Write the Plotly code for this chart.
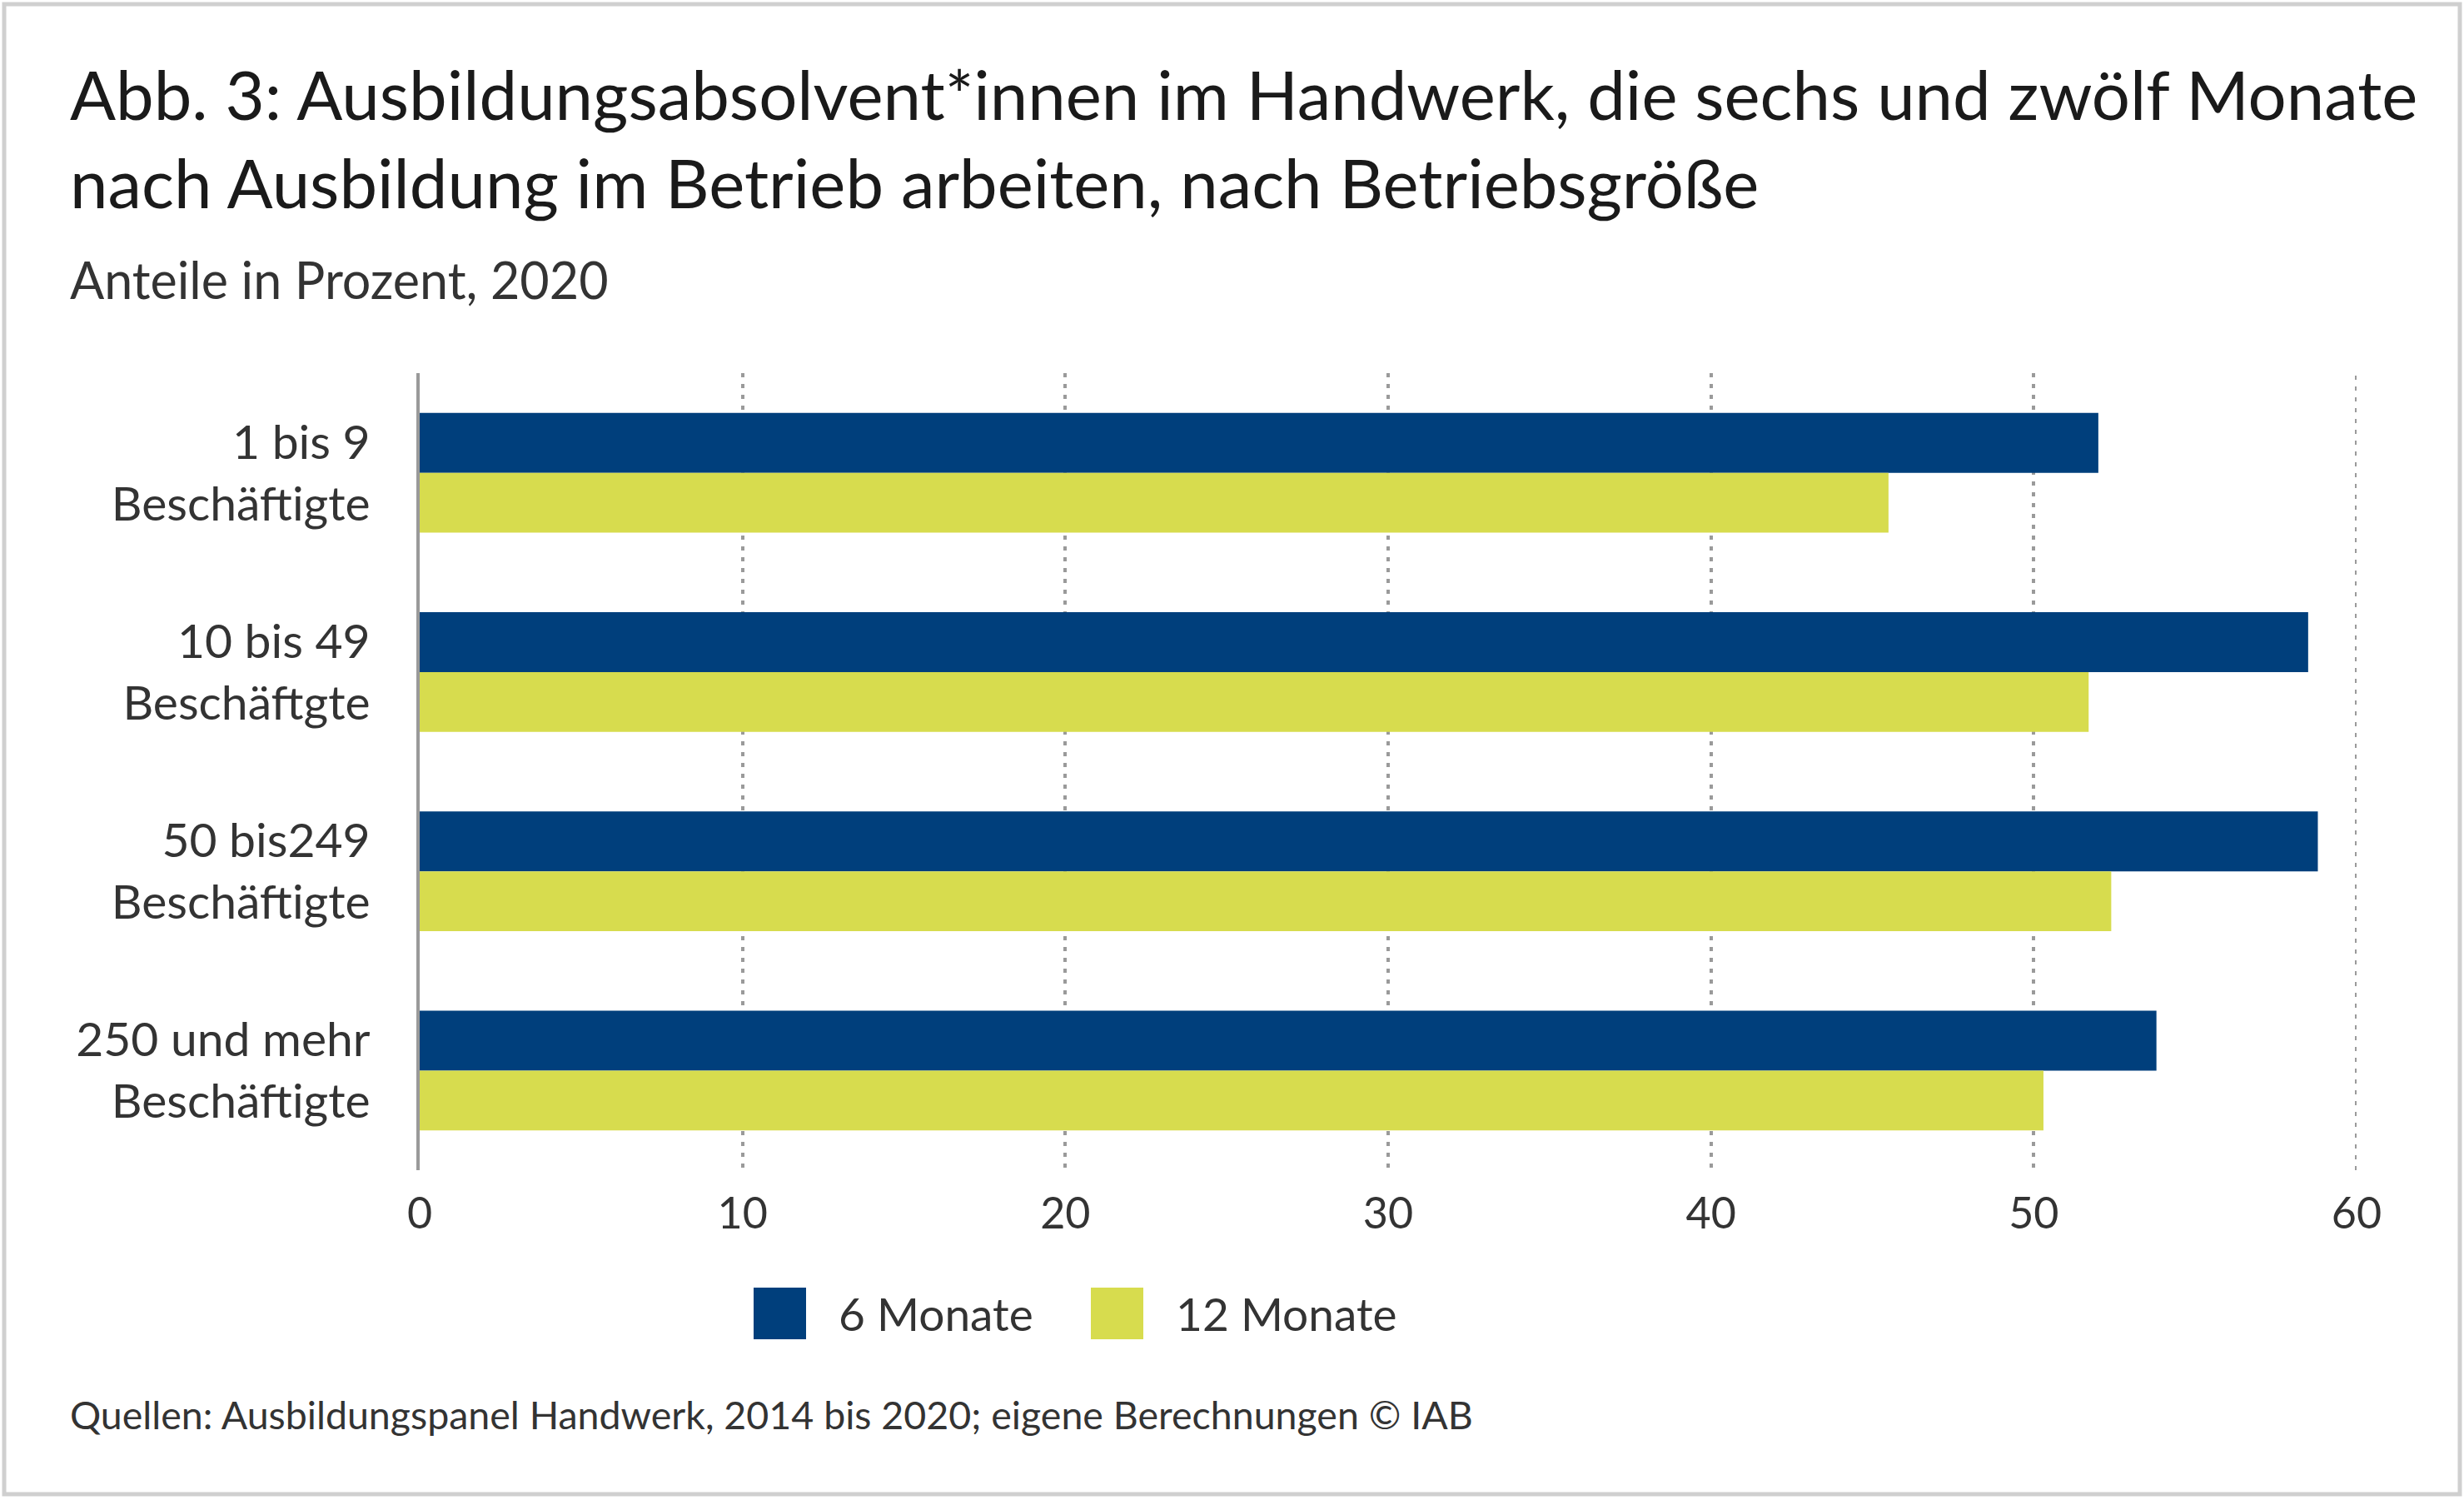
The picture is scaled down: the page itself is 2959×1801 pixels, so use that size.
import plotly.graph_objects as go

# Daten (Anteile in Prozent, 2020)
categories = ["1 bis 9<br>Beschäftigte", "10 bis 49<br>Beschäftgte",
              "50 bis249<br>Beschäftigte", "250 und mehr<br>Beschäftigte"]
series_names = ["6 Monate", "12 Monate"]
values_6m = [52.0, 58.5, 58.8, 53.8]
values_12m = [45.5, 51.7, 52.4, 50.3]
x_ticks = [0, 10, 20, 30, 40, 50, 60]

title = ("Abb. 3: Ausbildungsabsolvent*innen im Handwerk, die sechs und zwölf Monate"
         "<br>nach Ausbildung im Betrieb arbeiten, nach Betriebsgröße")
subtitle = "Anteile in Prozent, 2020"
source = "Quellen: Ausbildungspanel Handwerk, 2014 bis 2020; eigene Berechnungen © IAB"

NAVY = "#003f7c"
LIME = "#d7dc4e"
TXT = "#333333"
GRID = "#9a9a9a"
FONT = "Lato, Noto Sans, sans-serif"

W, H = 2959, 1801
L, R, T, B = 504, 129, 448, 396

def px(x):
    return (x - L) / (W - L - R)

def py(y):
    return (H - B - y) / (H - T - B)

fig = go.Figure()
for name, vals, col in [(series_names[0], values_6m, NAVY),
                        (series_names[1], values_12m, LIME)]:
    fig.add_trace(go.Bar(y=categories, x=vals, name=name, orientation="h",
                         marker=dict(color=col, line=dict(width=0))))

fig.update_layout(
    width=W, height=H,
    margin=dict(l=L, r=R, t=T, b=B),
    paper_bgcolor="white", plot_bgcolor="white",
    barmode="group", bargap=0.4, bargroupgap=0,
    showlegend=False,
    font=dict(family=FONT, color=TXT),
)
fig.update_xaxes(range=[0, 60], tickvals=x_ticks, showgrid=True,
                 gridcolor=GRID, gridwidth=4, griddash="5px,8px",
                 zeroline=False, showline=False, ticks="",
                 ticklabelstandoff=17,
                 tickfont=dict(size=52, color=TXT, family=FONT))
fig.update_yaxes(autorange="reversed", showgrid=False, zeroline=False,
                 showline=True, linecolor=GRID, linewidth=4, ticks="",
                 ticklabelstandoff=44,
                 tickfont=dict(size=57, color=TXT, family=FONT))

ann = [
    dict(text=title, x=px(82), y=py(62), xanchor="left", yanchor="top", align="left",
         font=dict(size=81.5, color="#1a1a1a", family=FONT)),
    dict(text=subtitle, x=px(82), y=py(297), xanchor="left", yanchor="top",
         font=dict(size=61, color=TXT, family=FONT)),
    dict(text=source, x=px(82), y=py(1698), xanchor="left", yanchor="middle",
         font=dict(size=46.5, color=TXT, family=FONT)),
]
shapes = [dict(type="rect", xref="paper", yref="paper",
               x0=px(5), x1=px(2954), y0=py(5), y1=py(1794),
               line=dict(color="#cfcfcf", width=5), layer="below"),
          # letzte Gitterlinie am rechten Rand (bei 60)
          dict(type="line", xref="x", yref="paper", x0=x_ticks[-1], x1=x_ticks[-1],
               y0=0, y1=1, line=dict(color=GRID, width=4, dash="5px,8px"),
               layer="below")]

# Legende als Quadrate mit Text
leg_x = [905, 1310]
for name, col, x0 in zip(series_names, [NAVY, LIME], leg_x):
    shapes.append(dict(type="rect", xref="paper", yref="paper",
                       x0=px(x0), x1=px(x0 + 63), y0=py(1546), y1=py(1608),
                       fillcolor=col, line=dict(width=0)))
    ann.append(dict(text=name, x=px(x0 + 100), y=py(1577), xanchor="left",
                    yanchor="middle", font=dict(size=55, color=TXT, family=FONT)))

for a in ann:
    a.update(xref="paper", yref="paper", showarrow=False)
fig.update_layout(annotations=ann, shapes=shapes)

fig.write_html("out.html", config={"displayModeBar": False},
               post_script="document.body.style.margin='0';")
